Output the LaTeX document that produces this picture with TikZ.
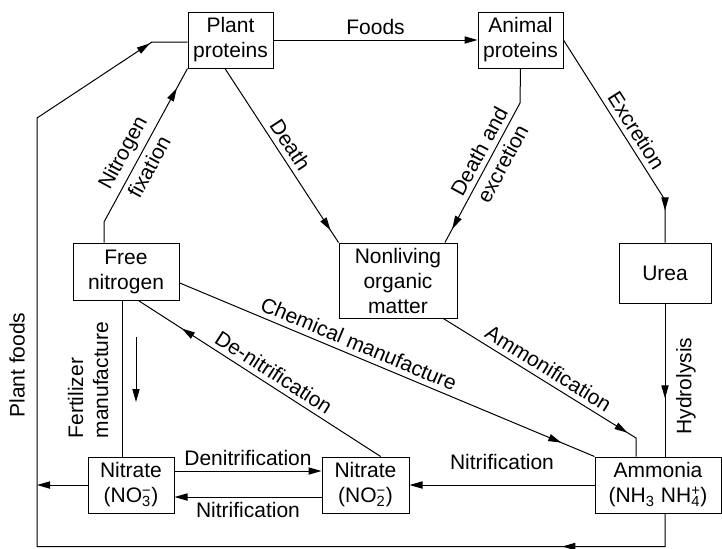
\documentclass[tikz,border=0pt]{standalone}
\usepackage{fontspec}
\setmainfont{Liberation Sans}
\usetikzlibrary{arrows.meta,decorations.markings}

\begin{document}
\begin{tikzpicture}[>={Triangle[length=6.5pt,width=3.6pt]}, line width=0.5pt,
    every node/.style={font=\fontsize{10.5}{12.5}\selectfont},
    box/.style 2 args={draw, align=center, inner sep=1pt, minimum width=#1, minimum height=#2},
    lbl/.style={inner sep=2.5pt},
    midarrow/.style={postaction={decorate, decoration={markings, mark=at position #1 with {\arrow{>}}}}}]
	% === 以像素为单位 (722 x 548) ===
	\begin{scope}[x=0.5pt, y=-0.5pt]
		\useasboundingbox (0,0) rectangle (722,548);
		
		% 方框
		\node[box={42.5pt}{28pt}] (plant) at (230.5,40) {Plant\\proteins};
		\node[box={42.5pt}{28pt}] (animal) at (520.5,40) {Animal\\proteins};
		\node[box={53pt}{28.5pt}] (free) at (126,271.5) {Free\\nitrogen};
		\node[box={59pt}{37.5pt}] (nonliving) at (398,280.5) {Nonliving\\organic\\matter};
		\node[box={46pt}{30pt}] (urea) at (665,273) {Urea};
		\node[box={43pt}{28pt}] (no3) at (131,485) {Nitrate\\(NO\rlap{\textsuperscript{−}}\textsubscript{3})};
		\node[box={43.5pt}{28pt}] (no2) at (365.5,485) {Nitrate\\(NO\rlap{\textsuperscript{−}}\textsubscript{2})};
		\node[box={63pt}{28pt}] (ammonia) at (658,485) {Ammonia\\(NH\textsubscript{3} NH\rlap{\textsuperscript{+}}\textsubscript{4})};
		
		% 折点
		\coordinate (nf) at (104,222);
		\coordinate (de) at (520,103);
		\coordinate (ex) at (665,200);
		\coordinate (am) at (636,438);
		\coordinate (fa) at (136,337);
		\coordinate (fb) at (136,402);
		\coordinate (pfA) at (665,546.5);
		\coordinate (pfB) at (37,546.5);
		\coordinate (pfC) at (37,118);
		\coordinate (pfD) at (152,42);
		
		% 上部
		\draw[->] (plant) -- node[above, lbl] {Foods} (animal);
		\draw[midarrow=.885] (free.north -| nf) -- (nf) -- node[pos=.4, sloped, above, lbl] {Nitrogen} node[pos=.4, sloped, below, lbl] {fixation} (plant.south west);
		\draw[midarrow=.93] (plant.-101) -- node[pos=.48, sloped, above, lbl] {Death} (nonliving.north west);
		\draw[midarrow=.92] (animal.south) -- (de) -- node[pos=.39, sloped, above, lbl] {Death and} node[pos=.39, sloped, below, lbl] {excretion} (nonliving.39);
		\draw[midarrow=.862] (animal.east) -- node[pos=.61, sloped, above, lbl] {Excretion} (ex) -- (ex |- urea.north);
		
		% 中部
		\draw[midarrow=.62] (urea.south) -- (urea.south |- ammonia.north);
		\node[rotate=90] (hydro) at (686,386) {Hydrolysis};
		\draw[midarrow=.885] (nonliving.-40) -- node[pos=.51, sloped, above, lbl] {Ammonification} (am) -- (am |- ammonia.north);
		\draw[midarrow=.92] (free.-12) -- node[pos=.42, sloped, above, lbl] {Chemical manufacture} (ammonia.north west);
		\draw[midarrow=.82] (no2.62) -- node[pos=.47, sloped, above, lbl] {De-nitrification} (free.-67);
		
		% 肥料
		\draw ([xshift=-2pt]free.south) -- ([xshift=-2pt]free.south |- no3.north);
		\draw[->] (fa) -- (fb);
		\node[rotate=90, align=left] (fert) at (88,380) {Fertilizer\\manufacture};
		
		% 下部
		\draw[->] ([yshift=7pt]no3.east) -- node[above, lbl] {Denitrification} ([yshift=7pt]no2.west);
		\draw[->] ([yshift=-6pt]no2.west) -- node[below, lbl] {Nitrification} ([yshift=-6pt]no3.east);
		\draw[->] (ammonia) -- node[above=5pt, lbl] {Nitrification} (no2);
		\draw[->] (no3.west) -- (no3.west -| pfB);
		
		% 植物食物回路
		\draw[midarrow=.1075, midarrow=.97] (urea.south |- ammonia.south) -- (pfA) -- (pfB) -- (pfC) -- (pfD) -- (pfD -| plant.west);
		\node[rotate=90] (pf) at (17,365) {Plant foods};
	\end{scope}
\end{tikzpicture}
\end{document}
